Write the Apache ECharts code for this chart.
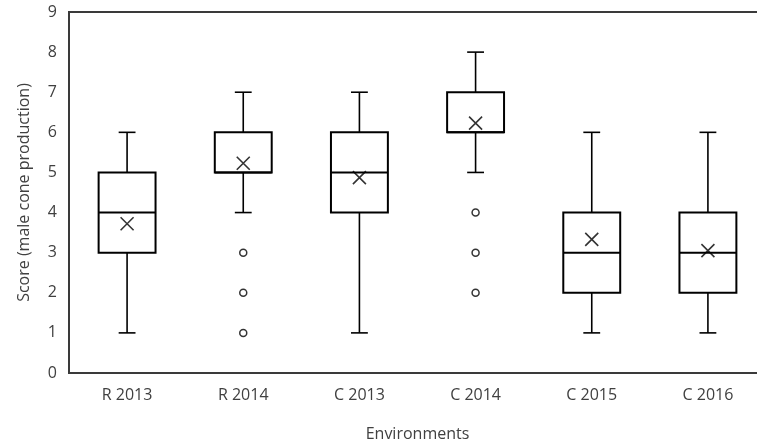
<!DOCTYPE html>
<html>
<head>
<meta charset="utf-8">
<script src="https://cdn.jsdelivr.net/npm/echarts@6/dist/echarts.min.js"></script>
<style>
html,body{margin:0;padding:0;background:#fff;}
#chart{width:757px;height:447px;}
</style>
</head>
<body>
<div id="chart"></div>
<script>
const categories = ['R 2013', 'R 2014', 'C 2013', 'C 2014', 'C 2015', 'C 2016'];
const minVals    = [1, 4, 1, 5, 1, 1];
const q1Vals     = [3, 5, 4, 6, 2, 2];
const medianVals = [4, 5, 5, 6, 3, 3];
const q3Vals     = [5, 6, 6, 7, 4, 4];
const maxVals    = [6, 7, 7, 8, 6, 6];
const meanVals   = [3.72, 5.23, 4.87, 6.23, 3.33, 3.05];
const outlierCats   = ['R 2014', 'R 2014', 'R 2014', 'C 2014', 'C 2014', 'C 2014'];
const outlierValues = [3, 2, 1, 4, 3, 2];
const yTicks = [0, 1, 2, 3, 4, 5, 6, 7, 8, 9];

const boxData = categories.map((c, i) => [i, minVals[i], q1Vals[i], medianVals[i], q3Vals[i], maxVals[i]]);
const meanData = categories.map((c, i) => [i, meanVals[i]]);
const outlierData = outlierCats.map((c, i) => [categories.indexOf(c), outlierValues[i]]);

const FONT = 'Open Sans';
const TXT = '#404040';

const chart = echarts.init(document.getElementById('chart'), null, {renderer: 'canvas'});
chart.setOption({
  animation: false,
  backgroundColor: '#fff',
  grid: {left: 69, top: 12, right: -9, bottom: 74, show: true, borderColor: '#3a3a3a', borderWidth: 2, containLabel: false, outerBoundsMode: 'none'},
  xAxis: {
    type: 'category',
    data: categories,
    axisLine: {show: true, lineStyle: {color: '#3a3a3a', width: 2}},
    axisTick: {show: false},
    axisLabel: {fontFamily: FONT, fontSize: 16, color: TXT, margin: 14},
    name: 'Environments',
    nameLocation: 'middle',
    nameGap: 53,
    nameTextStyle: {fontFamily: FONT, fontSize: 16, color: TXT}
  },
  yAxis: {
    type: 'value',
    min: yTicks[0],
    max: yTicks[yTicks.length - 1],
    interval: 1,
    splitLine: {show: false},
    axisLine: {show: true, lineStyle: {color: '#3a3a3a', width: 2}},
    axisTick: {show: false},
    axisLabel: {fontFamily: FONT, fontSize: 16, color: TXT, margin: 12},
    name: 'Score (male cone production)',
    nameLocation: 'middle',
    nameGap: 37,
    nameTextStyle: {fontFamily: FONT, fontSize: 16, color: TXT}
  },
  series: [
    {
      type: 'custom',
      data: boxData,
      encode: {x: 0, y: [1, 2, 3, 4, 5]},
      renderItem: function (params, api) {
        const idx = api.value(0);
        const pMin = api.coord([idx, api.value(1)]);
        const pQ1 = api.coord([idx, api.value(2)]);
        const pMed = api.coord([idx, api.value(3)]);
        const pQ3 = api.coord([idx, api.value(4)]);
        const pMax = api.coord([idx, api.value(5)]);
        const band = api.size([1, 0])[0];
        const bw = band * 0.49;
        const cap = band * 0.145;
        const cx = pMed[0];
        const ls = {stroke: '#000', lineWidth: 1.6, fill: null};
        const bs = {stroke: '#000', lineWidth: 2, fill: null};
        return {
          type: 'group',
          children: [
            {type: 'line', shape: {x1: cx, y1: pQ3[1], x2: cx, y2: pMax[1]}, style: ls},
            {type: 'line', shape: {x1: cx, y1: pQ1[1], x2: cx, y2: pMin[1]}, style: ls},
            {type: 'line', shape: {x1: cx - cap / 2, y1: pMax[1], x2: cx + cap / 2, y2: pMax[1]}, style: ls},
            {type: 'line', shape: {x1: cx - cap / 2, y1: pMin[1], x2: cx + cap / 2, y2: pMin[1]}, style: ls},
            {type: 'rect', shape: {x: cx - bw / 2, y: pQ3[1], width: bw, height: pQ1[1] - pQ3[1]}, style: bs},
            {type: 'line', shape: {x1: cx - bw / 2, y1: pMed[1], x2: cx + bw / 2, y2: pMed[1]}, style: bs}
          ]
        };
      },
      z: 2
    },
    {
      type: 'scatter',
      data: meanData,
      symbol: 'path://M0,0L10,10M10,0L0,10',
      symbolSize: 13,
      itemStyle: {color: 'none', borderColor: '#000', borderWidth: 1.6},
      z: 3
    },
    {
      type: 'scatter',
      data: outlierData,
      symbol: 'circle',
      symbolSize: 7,
      itemStyle: {color: '#fff', borderColor: '#000', borderWidth: 1.5},
      z: 3
    }
  ]
});
</script>
</body>
</html>
